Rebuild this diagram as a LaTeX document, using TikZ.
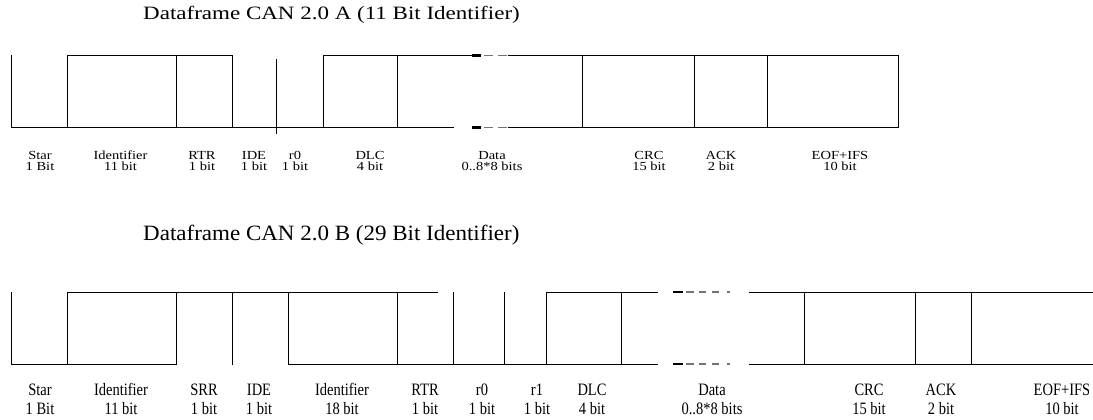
\documentclass[tikz,border=0pt]{standalone}
\usepackage{fontspec}
\usepackage{graphicx}
\setmainfont{Liberation Serif}
\newcommand{\vsq}[2]{\scalebox{1}[#1]{#2}}
\tikzset{
  frame/.style={line width=1pt, black, line cap=rect},
  blackdash/.style={line width=2.2pt, black},
  greydash/.style={line width=1.3pt, black!55},
  lblA/.style={anchor=base, inner sep=0pt, font=\fontsize{14.5}{14.5}\selectfont},
  lblB/.style={anchor=base, inner sep=0pt, font=\fontsize{14.5}{14.5}\selectfont},
  ttl/.style={anchor=base west, inner sep=0pt, font=\fontsize{23}{23}\selectfont}
}
\begin{document}
\begin{tikzpicture}[x=1pt,y=-1pt]
\useasboundingbox (0,0) rectangle (1093,420);
% ---------- Titles
\node[ttl] (tA) at (143,20) {\vsq{0.82}{Dataframe CAN 2.0 A (11 Bit Identifier)}};
\node[ttl] (tB) at (143,240) {\vsq{0.95}{Dataframe CAN 2.0 B (29 Bit Identifier)}};
% ---------- Frame A
\def\Ta{55.5}\def\Ba{127.5}
\draw[frame] (11,\Ta) -- (11,\Ba) -- (67,\Ba);
\draw[frame] (67,\Ta) rectangle (176,\Ba);
\draw[frame] (176,\Ta) -- (232,\Ta) -- (232,\Ba) -- (176,\Ba);
\draw[frame] (232,\Ba) -- (323,\Ba);
\draw[frame] (276,60) -- (276,133);
\draw[frame] (323,\Ta) rectangle (397,\Ba);
\draw[frame] (397,\Ta) -- (472,\Ta);
\draw[frame] (397,\Ba) -- (453,\Ba);
\foreach \yy in {\Ta,\Ba}{
  \draw[blackdash] (472,\yy) -- (481,\yy);
  \draw[greydash] (484,\yy) -- (493,\yy);
  \draw[greydash] (498,\yy) -- (507,\yy);
}
\draw[frame] (508,\Ta) -- (898,\Ta) -- (898,\Ba) -- (508,\Ba);
\foreach \xx in {582,694,767}{\draw[frame] (\xx,\Ta) -- (\xx,\Ba);}
% ---------- Labels A
\def\La{159}\def\Lb{170}
\foreach \xx/\aa/\bb in {40/Star/1 Bit,120.5/Identifier/11 bit,202/RTR/1 bit,254/IDE/1 bit,295/r0/1 bit,370/DLC/4 bit,492/Data/0..8*8 bits,649/CRC/15 bit,721/ACK/2 bit,840/EOF+IFS/10 bit}{
  \node[lblA] at (\xx,\La) {\vsq{0.85}{\aa}};
  \node[lblA] at (\xx,\Lb) {\vsq{0.85}{\bb}};
}
% ---------- Frame B
\def\Tb{292}\def\Bb{364}
\draw[frame] (11,\Tb) -- (11,\Bb) -- (67,\Bb);
\draw[frame] (67,\Tb) rectangle (176,\Bb);
\draw[frame] (176,\Tb) -- (437,\Tb);
\draw[frame] (288,\Bb) -- (657,\Bb);
\draw[frame] (546,\Tb) -- (657,\Tb);
\foreach \xx in {232,288,397,453,504,546,621}{\draw[frame] (\xx,\Tb) -- (\xx,\Bb);}
\draw[blackdash] (673,\Tb) -- (683,\Tb);
\draw[blackdash] (673,\Bb) -- (683,\Bb);
\foreach \yy in {\Tb,\Bb}{
  \foreach \xa/\xb in {686/694,699/706,712/719,727/730}{\draw[greydash] (\xa,\yy) -- (\xb,\yy);}
}
\draw[frame] (749,\Tb) -- (1093,\Tb);
\draw[frame] (749,\Bb) -- (1093,\Bb);
\foreach \xx in {804,915,971}{\draw[frame] (\xx,\Tb) -- (\xx,\Bb);}
% ---------- Labels B
\def\Lc{395}\def\Ld{414}
\foreach \xx/\aa/\bb in {40/Star/1 Bit,121/Identifier/11 bit,204/SRR/1 bit,259/IDE/1 bit,342/Identifier/18 bit,425/RTR/1 bit,482/r0/1 bit,537/r1/1 bit,592/DLC/4 bit,712/Data/0..8*8 bits,869/CRC/15 bit,941/ACK/2 bit,1062/EOF+IFS/10 bit}{
  \node[lblB] at (\xx,\Lc) {\vsq{1.2}{\aa}};
  \node[lblB] at (\xx,\Ld) {\vsq{1.2}{\bb}};
}
\end{tikzpicture}
\end{document}
